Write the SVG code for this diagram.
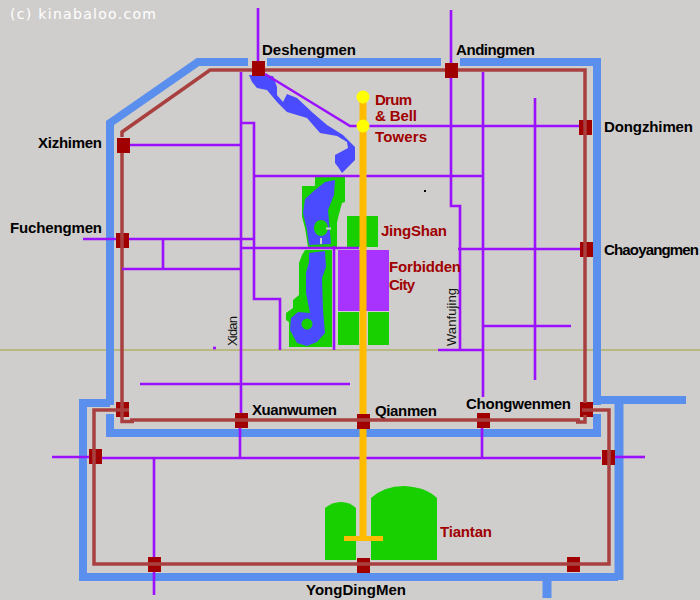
<svg xmlns="http://www.w3.org/2000/svg" width="700" height="600" viewBox="0 0 700 600">
<style>
.wall{fill:none;stroke:#5a8fee;stroke-width:8}
.brick{fill:none;stroke:#a84040;stroke-width:3.5}
.road{fill:none;stroke:#9a10ff;stroke-width:2.6}
.axis{fill:none;stroke:#ffbb00;stroke-width:7}
.gate{fill:#a00000}
.green{fill:#18d000}
.lake{fill:#4a4aff}
.dot{fill:#ffff00}
text{font-family:"Liberation Sans",Arial,sans-serif;font-size:15px;font-weight:bold}
.k{fill:#000}
.r{fill:#a00000}
.thin{font-weight:normal;font-size:13px;fill:#111}
.wm{fill:#fff;font-weight:normal;font-size:14px;font-family:"DejaVu Sans",sans-serif}
</style>
<rect width="700" height="600" fill="#d0cecc"/>
<g id="baseline"><path d="M0 350H700" fill="none" stroke="#b8b880" stroke-width="2"/></g>
<g id="walls">
<path class="wall" d="M110 405V123L198 62H248"/>
<path class="wall" d="M267 62H441"/>
<path class="wall" d="M460 62H597V405"/>
<path class="wall" d="M110 414V433H597V414"/>
<path class="wall" d="M110 403H83V577H618"/>
<path class="wall" d="M597 400H686"/>
<path class="wall" style="stroke-width:9" d="M619 396V580"/>
<path class="wall" style="stroke-width:9" d="M547 577V598"/>
</g>
<g id="parks">
<path class="green" d="M315 177H345V202L342 203L338 218L337 223V247H308L305 228L302 217V186H315Z"/>
<path class="lake" d="M335 180L334 195L328 210L331 244L309 245L307 230L303 213L305 199L315 190L325 182Z"/>
<ellipse class="green" cx="321" cy="228" rx="7" ry="8"/>
<path d="M326 228.500H331M321 238V244" fill="none" stroke="#d0cecc" stroke-width="2"/>
<path class="green" d="M305 250H332V347H289V322L286 320V313L293 308V300L299 295V263L302 255Z"/>
<path class="lake" d="M309 253L325 251L326 267L322 278L323 310L325 333L317 342L307 346L297 343L290 330L291 318L298 312L310 313L306 293L306 273L309 262Z"/>
<circle class="green" cx="307" cy="324" r="5.500"/>
<path class="lake" d="M249 75L273 76L277 87L277 95L283 102L287 94L297 98L313 113L327 125L343 135L355 147V160L342 173L338 167L335 163V155L348 148L347 142L337 136L320 133L307 118L287 112L277 102L267 90L257 88L252 82Z"/>
</g>
<g id="jingshan"><rect class="green" x="347" y="216" width="31" height="31"/></g>
<g id="forbidden-city">
<rect x="338" y="250" width="51" height="61" fill="#a833ff"/>
<rect class="green" x="338" y="312" width="21" height="33"/>
<rect class="green" x="368" y="312" width="21" height="33"/>
</g>
<g id="tiantan-park">
<path class="green" d="M325 560V508Q332 502 341 502Q350 502 356 508V560Z"/>
<path class="green" d="M371 560V498Q384 486 404 486Q426 487 437 498V560Z"/>
</g>
<g id="deshengmen"><rect class="gate" x="252" y="61" width="13" height="15"/><text class="k" x="262" y="55" textLength="94">Deshengmen</text></g>
<g id="andingmen"><rect class="gate" x="445" y="63" width="13" height="15"/><text class="k" x="456" y="55" textLength="79">Andingmen</text></g>
<g id="xizhimen"><rect class="gate" x="117" y="138" width="13" height="15"/><text class="k" x="38" y="148" textLength="64">Xizhimen</text></g>
<g id="fuchengmen"><rect class="gate" x="116" y="233" width="13" height="15"/><text class="k" x="10" y="233" textLength="92">Fuchengmen</text></g>
<g id="dongzhimen"><rect class="gate" x="579" y="120" width="13" height="15"/><text class="k" x="604" y="132" textLength="89">Dongzhimen</text></g>
<g id="chaoyangmen"><rect class="gate" x="580" y="242" width="13" height="15"/><text class="k" x="604" y="255" textLength="95">Chaoyangmen</text></g>
<g id="corner-sw"><rect class="gate" x="116" y="402" width="13" height="15"/></g>
<g id="xuanwumen"><rect class="gate" x="235" y="413" width="13" height="15"/><text class="k" x="252" y="415" textLength="85">Xuanwumen</text></g>
<g id="qianmen"><rect class="gate" x="357" y="414" width="13" height="15"/><text class="k" x="375" y="416" textLength="62">Qianmen</text></g>
<g id="chongwenmen"><rect class="gate" x="477" y="413" width="13" height="15"/><text class="k" x="466" y="409" textLength="105">Chongwenmen</text></g>
<g id="corner-se"><rect class="gate" x="580" y="402" width="13" height="15"/></g>
<g id="west-outer"><rect class="gate" x="89" y="449" width="13" height="15"/></g>
<g id="east-outer"><rect class="gate" x="602" y="450" width="13" height="15"/></g>
<g id="south-west"><rect class="gate" x="148" y="557" width="13" height="15"/></g>
<g id="yongdingmen"><rect class="gate" x="357" y="558" width="13" height="15"/><text class="k" x="306" y="595" textLength="100">YongDingMen</text></g>
<g id="south-east"><rect class="gate" x="567" y="557" width="13" height="15"/></g>
<g id="connectors">
<path class="brick" d="M122 137V132L210 70H252"/>
<path class="brick" d="M265 70H445"/>
<path class="brick" d="M458 70H585V403"/>
<path class="brick" d="M585 415V422H576"/>
<path class="brick" d="M580 420H130"/>
<path class="brick" d="M134 421.500H122V153"/>
<path class="brick" d="M129 410H94V564H609V410H582"/>
<path class="road" d="M258 8V61"/>
<path class="road" d="M265 74L350 126H579"/>
<path class="road" d="M241 72V413"/>
<path class="road" d="M240 428V458"/>
<path class="road" d="M130 145H241"/>
<path class="road" d="M241 123H254V299H280V350"/>
<path class="road" d="M254 176H483"/>
<path class="road" d="M451 10V63"/>
<path class="road" d="M451 78V206H460V350"/>
<path class="road" d="M438 350H483"/>
<path class="road" d="M483 72V397"/>
<path class="road" d="M482 428V458"/>
<path class="road" d="M535 98V380"/>
<path class="road" d="M83 239H116"/>
<path class="road" d="M129 239H254"/>
<path class="road" d="M122 269H241"/>
<path class="road" d="M163 239V269"/>
<path class="road" d="M241 248H359"/>
<path class="road" d="M458 249H580"/>
<path class="road" d="M334 246V350"/>
<path class="road" d="M483 326H571"/>
<path class="road" d="M140 384H350"/>
<path class="road" d="M52 457H89"/>
<path class="road" d="M102 458H601"/>
<path class="road" d="M615 457H645"/>
<path class="road" d="M154 458V557"/>
<path class="road" d="M154 572V595"/>
<path class="road" d="M213 348H216"/>
<path class="axis" d="M363 98V414"/>
<path class="axis" d="M363 429V541"/>
<path class="axis" style="stroke-width:5" d="M344 538.500H383"/>
</g>
<rect x="424" y="190" width="2" height="2" fill="#000"/>
<g id="drum-bell">
<circle class="dot" cx="363" cy="97" r="6.500"/>
<circle class="dot" cx="363" cy="126" r="6.500"/>
<text class="r" x="375" y="105" textLength="37">Drum</text>
<text class="r" x="375" y="121" textLength="42">&amp; Bell</text>
<text class="r" x="375" y="142" textLength="52">Towers</text>
</g>
<g id="labels">
<text class="r" x="381" y="236" textLength="66">JingShan</text>
<text class="r" x="389" y="272" textLength="72">Forbidden</text>
<text class="r" x="389" y="290" textLength="26">City</text>
<text class="r" x="440" y="537" textLength="52">Tiantan</text>
<text class="thin" transform="translate(237 346) rotate(-90)" textLength="30">Xidan</text>
<text class="thin" transform="translate(456 346) rotate(-90)" textLength="58">Wanfujing</text>
<text class="wm" x="10" y="19" textLength="146">(c) kinabaloo.com</text>
</g>
</svg>
